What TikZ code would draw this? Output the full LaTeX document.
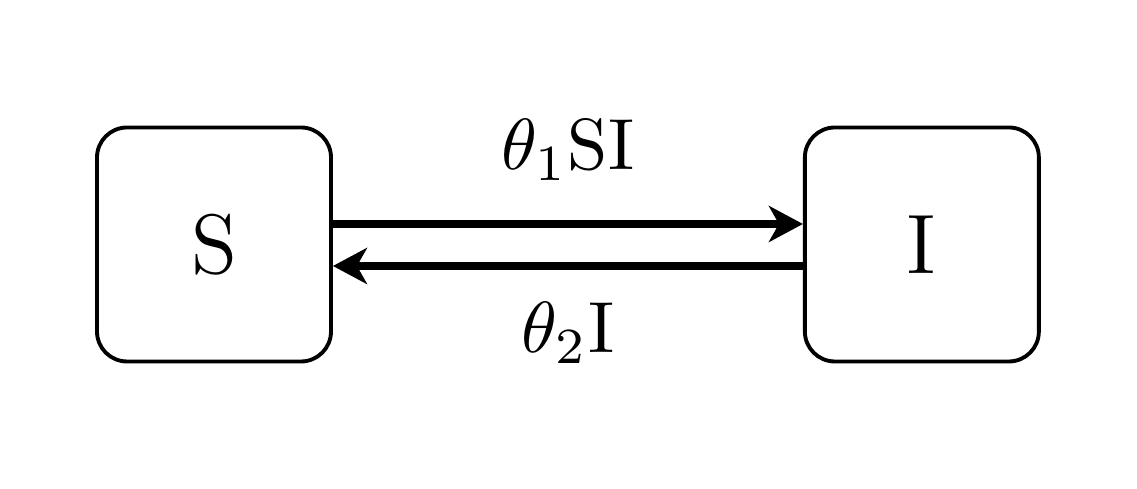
\documentclass[tikz,border=0pt]{standalone}
\usepackage{tikz}
\usetikzlibrary{arrows.meta, positioning}

\begin{document}
\begin{tikzpicture}[compartment/.style={draw, 
            line width=1.1pt,
            rounded corners=3mm,
            minimum size=23.4mm,
            inner sep=0mm},
            rate/.style={anchor=base},
            flow/.style={line width=2.1pt, ->}, >={Stealth[length=3.4mm, width=3.6mm, inset=1mm]}]
            \useasboundingbox (0,0) rectangle (11.37,4.89);
            \node[compartment] at (2.14,2.445) (S) {\scalebox{2}{\large S}};
            \node[compartment, right=4.7cm of S] (I) {\scalebox{2}{\large I}};
            \draw[flow] ([yshift=2.05mm]S.east) -- ([yshift=2.05mm]I.west) node[rate, midway, yshift=5.4mm] (infect) {\scalebox{2.06}{$\theta_1$SI}};
            \draw[flow] ([yshift=-2.15mm]I.west) -- ([yshift=-2.15mm]S.east) node[rate, midway, yshift=-8.7mm] (recover) {\scalebox{2.06}{$\theta_2$I}};
        \end{tikzpicture}
\end{document}
